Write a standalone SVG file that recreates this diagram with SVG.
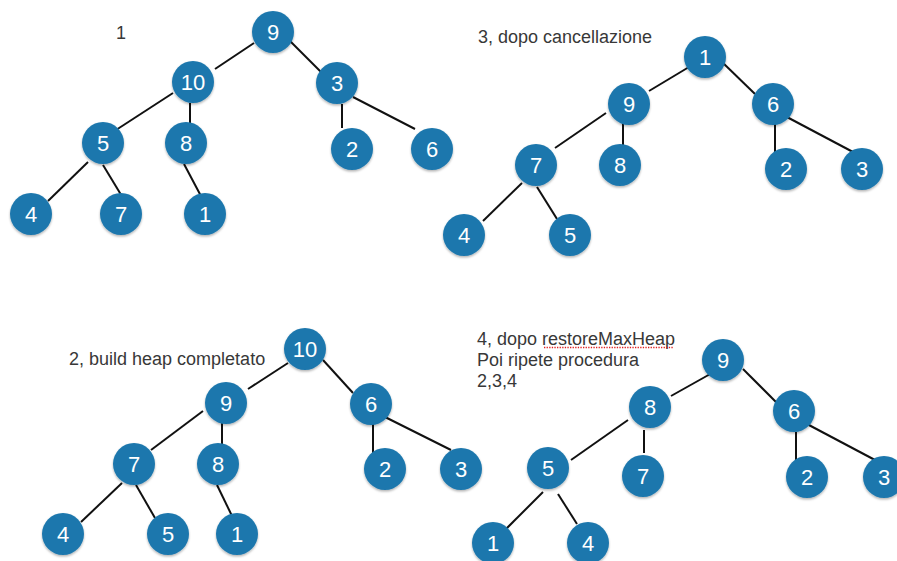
<svg xmlns="http://www.w3.org/2000/svg" width="897" height="561" viewBox="0 0 897 561">
<style>
.n circle{fill:#1c77ad;filter:url(#sh)}
.n text{fill:#fff;font-family:"Liberation Sans",Arial,sans-serif;font-size:22px;text-anchor:middle;dominant-baseline:central}
.e line{stroke:#111;stroke-width:2}
.lbl{fill:#383838;font-family:"Liberation Sans",Arial,sans-serif;font-size:18px}
</style>
<defs>
<filter id="sh" x="-30%" y="-30%" width="160%" height="160%"><feDropShadow dx="0" dy="1.5" stdDeviation="1.2" flood-color="#000" flood-opacity="0.3"/></filter>
</defs>
<rect width="897" height="561" fill="#fff"/>
<g id="labels">
<text class="lbl" x="116" y="39">1</text>
<text class="lbl" x="478" y="43">3, dopo cancellazione</text>
<text class="lbl" x="69" y="365">2, build heap completato</text>
<text class="lbl" x="477" y="345">4, dopo restoreMaxHeap</text>
<text class="lbl" x="477" y="366">Poi ripete procedura</text>
<text class="lbl" x="477" y="387">2,3,4</text>
<line x1="544" y1="347.5" x2="674" y2="347.5" stroke="#e02020" stroke-width="1.3" stroke-dasharray="1.3 1.3"/>
</g>
<g id="connectors" class="e">
<!-- tree 1 -->
<line x1="254" y1="43" x2="215" y2="69"/>
<line x1="288" y1="39" x2="322" y2="73"/>
<line x1="173" y1="93" x2="116" y2="130"/>
<line x1="190" y1="103" x2="190" y2="123"/>
<line x1="342" y1="104" x2="342" y2="128"/>
<line x1="353" y1="97" x2="415" y2="129"/>
<line x1="88" y1="162" x2="48" y2="201"/>
<line x1="103" y1="165" x2="123" y2="198"/>
<line x1="184" y1="164" x2="202" y2="198"/>
<!-- tree 3 -->
<line x1="689" y1="67" x2="649" y2="91"/>
<line x1="721" y1="61" x2="755" y2="94"/>
<line x1="606" y1="113" x2="555" y2="148"/>
<line x1="623" y1="122" x2="623" y2="145"/>
<line x1="775" y1="124" x2="775" y2="157"/>
<line x1="785" y1="116" x2="853" y2="152"/>
<line x1="522" y1="183" x2="483" y2="221"/>
<line x1="537" y1="187" x2="557" y2="219"/>
<!-- tree 2 -->
<line x1="288" y1="363" x2="248" y2="389"/>
<line x1="323" y1="360" x2="353" y2="393"/>
<line x1="203" y1="411" x2="151" y2="450"/>
<line x1="222" y1="422" x2="222" y2="444"/>
<line x1="373" y1="423" x2="373" y2="457"/>
<line x1="385" y1="417" x2="451" y2="450"/>
<line x1="122" y1="483" x2="81" y2="522"/>
<line x1="136" y1="485" x2="155" y2="518"/>
<line x1="217" y1="485" x2="233" y2="518"/>
<!-- tree 4 -->
<line x1="712" y1="373" x2="671" y2="396"/>
<line x1="743" y1="369" x2="777" y2="403"/>
<line x1="628" y1="420" x2="571" y2="460"/>
<line x1="644" y1="430" x2="644" y2="453"/>
<line x1="796" y1="432" x2="796" y2="465"/>
<line x1="807" y1="424" x2="875" y2="460"/>
<line x1="543" y1="492" x2="505" y2="530"/>
<line x1="558" y1="494" x2="577" y2="524"/>
</g>
<g id="tree1">
<g id="t1-9" class="n"><circle cx="273" cy="32" r="21"/><text x="273" y="32">9</text></g>
<g id="t1-10" class="n"><circle cx="193" cy="82" r="21"/><text x="193" y="82">10</text></g>
<g id="t1-3" class="n"><circle cx="337" cy="83" r="21"/><text x="337" y="83">3</text></g>
<g id="t1-5" class="n"><circle cx="103" cy="143" r="21"/><text x="103" y="143">5</text></g>
<g id="t1-8" class="n"><circle cx="186" cy="143" r="21"/><text x="186" y="143">8</text></g>
<g id="t1-2" class="n"><circle cx="352" cy="149" r="21"/><text x="352" y="149">2</text></g>
<g id="t1-6" class="n"><circle cx="432" cy="149" r="21"/><text x="432" y="149">6</text></g>
<g id="t1-4" class="n"><circle cx="31" cy="214" r="21"/><text x="31" y="214">4</text></g>
<g id="t1-7" class="n"><circle cx="121" cy="214" r="21"/><text x="121" y="214">7</text></g>
<g id="t1-1" class="n"><circle cx="205" cy="214" r="21"/><text x="205" y="214">1</text></g>
</g>
<g id="tree3">
<g id="t3-1" class="n"><circle cx="705" cy="57" r="21"/><text x="705" y="57">1</text></g>
<g id="t3-9" class="n"><circle cx="629" cy="104" r="21"/><text x="629" y="104">9</text></g>
<g id="t3-6" class="n"><circle cx="773" cy="104" r="21"/><text x="773" y="104">6</text></g>
<g id="t3-7" class="n"><circle cx="536" cy="165" r="21"/><text x="536" y="165">7</text></g>
<g id="t3-8" class="n"><circle cx="620" cy="165" r="21"/><text x="620" y="165">8</text></g>
<g id="t3-2" class="n"><circle cx="786" cy="169" r="21"/><text x="786" y="169">2</text></g>
<g id="t3-3" class="n"><circle cx="862" cy="169" r="21"/><text x="862" y="169">3</text></g>
<g id="t3-4" class="n"><circle cx="464" cy="235" r="21"/><text x="464" y="235">4</text></g>
<g id="t3-5" class="n"><circle cx="570" cy="235" r="21"/><text x="570" y="235">5</text></g>
</g>
<g id="tree2">
<g id="t2-10" class="n"><circle cx="305" cy="349" r="21"/><text x="305" y="349">10</text></g>
<g id="t2-9" class="n"><circle cx="226" cy="403" r="21"/><text x="226" y="403">9</text></g>
<g id="t2-6" class="n"><circle cx="371" cy="404" r="21"/><text x="371" y="404">6</text></g>
<g id="t2-7" class="n"><circle cx="134" cy="464" r="21"/><text x="134" y="464">7</text></g>
<g id="t2-8" class="n"><circle cx="218" cy="464" r="21"/><text x="218" y="464">8</text></g>
<g id="t2-2" class="n"><circle cx="385" cy="469" r="21"/><text x="385" y="469">2</text></g>
<g id="t2-3" class="n"><circle cx="461" cy="469" r="21"/><text x="461" y="469">3</text></g>
<g id="t2-4" class="n"><circle cx="63" cy="534" r="21"/><text x="63" y="534">4</text></g>
<g id="t2-5" class="n"><circle cx="168" cy="534" r="21"/><text x="168" y="534">5</text></g>
<g id="t2-1" class="n"><circle cx="237" cy="534" r="21"/><text x="237" y="534">1</text></g>
</g>
<g id="tree4">
<g id="t4-9" class="n"><circle cx="723" cy="360" r="21"/><text x="723" y="360">9</text></g>
<g id="t4-8" class="n"><circle cx="650" cy="407" r="21"/><text x="650" y="407">8</text></g>
<g id="t4-6" class="n"><circle cx="794" cy="411" r="21"/><text x="794" y="411">6</text></g>
<g id="t4-5" class="n"><circle cx="548" cy="468" r="21"/><text x="548" y="468">5</text></g>
<g id="t4-7" class="n"><circle cx="643" cy="476" r="21"/><text x="643" y="476">7</text></g>
<g id="t4-2" class="n"><circle cx="807" cy="477" r="21"/><text x="807" y="477">2</text></g>
<g id="t4-3" class="n"><circle cx="884" cy="477" r="21"/><text x="884" y="477">3</text></g>
<g id="t4-1" class="n"><circle cx="493" cy="543" r="21"/><text x="493" y="543">1</text></g>
<g id="t4-4" class="n"><circle cx="588" cy="543" r="21"/><text x="588" y="543">4</text></g>
</g>
</svg>
